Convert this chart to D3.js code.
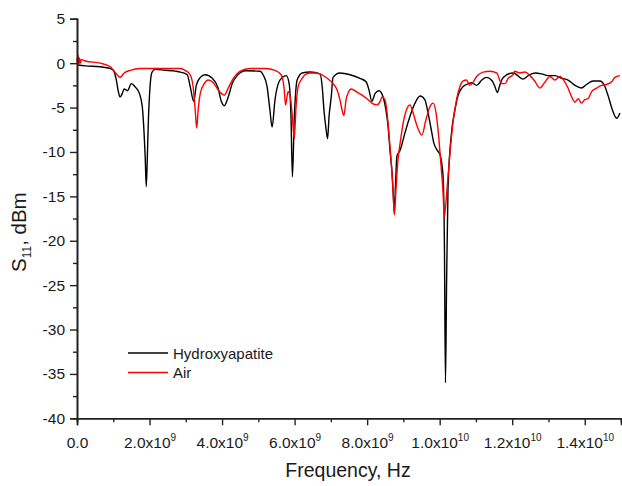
<!DOCTYPE html>
<html>
<head>
<meta charset="utf-8">
<script src="https://cdn.jsdelivr.net/npm/d3@7"></script>
<style>
  body { margin: 0; background: #fff; }
  text { font-family: "Liberation Sans", Arial, sans-serif; }
</style>
</head>
<body>
<div id="chart"></div>
<script>
// [frequency in GHz, S11 in dBm]
const hydroxyapatite = [
  [0.01,-0.2],[0.23,-0.3],[0.64,-0.4],[0.92,-0.6],[1.00,-0.8],[1.08,-1.8],[1.14,-3.2],[1.19,-3.8],
  [1.25,-3.4],[1.30,-2.9],[1.39,-3.1],[1.50,-2.3],[1.61,-2.7],[1.72,-3.4],[1.80,-4.9],[1.85,-7.9],
  [1.88,-10.5],[1.91,-13.9],[1.94,-10.5],[1.96,-7.5],[2.02,-2.3],[2.07,-1.0],[2.16,-0.7],[2.43,-0.8],
  [2.71,-0.9],[2.85,-1.0],[3.04,-1.3],[3.12,-2.6],[3.22,-4.3],[3.29,-2.5],[3.40,-1.6],[3.53,-1.3],
  [3.73,-1.7],[3.89,-2.8],[3.98,-4.3],[4.06,-4.8],[4.17,-3.8],[4.28,-2.3],[4.44,-1.3],[4.64,-0.85],
  [5.05,-0.9],[5.13,-1.3],[5.24,-2.6],[5.32,-5.3],[5.38,-7.2],[5.46,-4.1],[5.55,-2.3],[5.66,-1.6],
  [5.77,-1.4],[5.85,-2.3],[5.90,-6.0],[5.94,-12.8],[5.99,-6.4],[6.07,-1.9],[6.21,-1.1],[6.43,-1.0],
  [6.70,-1.2],[6.76,-2.6],[6.81,-5.3],[6.87,-7.5],[6.91,-8.5],[6.95,-6.0],[7.01,-3.8],[7.06,-1.6],
  [7.25,-1.1],[7.53,-1.3],[7.80,-1.7],[7.97,-2.1],[8.05,-3.0],[8.13,-4.3],[8.22,-3.4],[8.33,-3.1],
  [8.44,-3.8],[8.52,-5.3],[8.58,-7.2],[8.63,-9.8],[8.69,-12.5],[8.73,-15.5],[8.75,-16.8],[8.78,-14.0],
  [8.82,-10.5],[8.91,-9.8],[9.04,-7.9],[9.18,-6.0],[9.32,-4.5],[9.46,-3.7],[9.59,-4.1],[9.68,-5.6],
  [9.76,-7.3],[9.84,-9.0],[9.93,-9.8],[10.01,-10.3],[10.09,-12.5],[10.13,-20.0],[10.16,-36.0],[10.19,-25.0],
  [10.23,-14.1],[10.33,-7.7],[10.42,-5.3],[10.51,-3.6],[10.61,-2.8],[10.74,-2.4],[10.88,-2.2],[11.02,-2.5],
  [11.16,-1.9],[11.29,-1.6],[11.45,-2.0],[11.52,-2.6],[11.59,-3.3],[11.65,-2.6],[11.71,-1.9],[11.85,-1.3],
  [12.03,-1.1],[12.30,-1.8],[12.44,-1.4],[12.63,-1.1],[12.81,-1.2],[12.99,-1.4],[13.18,-1.4],[13.36,-1.7],
  [13.54,-1.9],[13.73,-2.5],[13.91,-2.8],[14.05,-2.4],[14.23,-2.0],[14.42,-2.0],[14.53,-2.4],[14.64,-3.6],
  [14.75,-5.1],[14.88,-6.2],[14.97,-5.6]
];

const air = [
  [0.00,0.6],[0.02,-0.4],[0.03,0.9],[0.05,-0.2],[0.07,0.6],[0.09,0.0],[0.12,0.4],[0.23,0.25],
  [0.64,0.0],[0.92,-0.4],[1.00,-0.8],[1.11,-1.3],[1.19,-1.6],[1.30,-1.1],[1.47,-0.8],[1.74,-0.6],
  [2.29,-0.6],[2.85,-0.6],[2.98,-0.8],[3.12,-1.3],[3.20,-2.6],[3.26,-5.3],[3.30,-7.3],[3.34,-5.3],
  [3.40,-3.4],[3.51,-2.3],[3.62,-1.9],[3.76,-2.2],[3.89,-3.0],[4.06,-3.6],[4.17,-2.8],[4.31,-1.7],
  [4.50,-0.9],[4.77,-0.6],[5.19,-0.6],[5.46,-0.8],[5.63,-1.3],[5.71,-2.8],[5.75,-4.7],[5.79,-3.8],
  [5.82,-3.2],[5.88,-3.8],[5.93,-5.6],[5.99,-8.5],[6.04,-4.9],[6.10,-2.6],[6.21,-1.7],[6.29,-1.3],
  [6.43,-1.1],[6.57,-1.1],[6.70,-1.2],[6.90,-1.7],[7.06,-2.3],[7.17,-3.0],[7.25,-4.1],[7.31,-5.3],
  [7.36,-5.9],[7.42,-4.1],[7.47,-3.4],[7.56,-2.9],[7.70,-3.2],[7.86,-3.6],[8.02,-4.1],[8.13,-4.5],
  [8.27,-4.7],[8.36,-4.3],[8.41,-3.8],[8.49,-4.1],[8.55,-5.6],[8.60,-7.9],[8.66,-10.9],[8.71,-14.0],
  [8.75,-17.1],[8.80,-13.9],[8.85,-10.9],[8.91,-9.0],[8.99,-6.8],[9.10,-5.1],[9.18,-4.7],[9.26,-5.5],
  [9.37,-7.0],[9.51,-8.1],[9.62,-6.4],[9.73,-4.9],[9.82,-4.5],[9.90,-5.6],[9.98,-8.6],[10.04,-11.7],
  [10.09,-14.3],[10.13,-17.3],[10.19,-14.8],[10.28,-10.3],[10.37,-6.6],[10.47,-4.0],[10.56,-2.6],[10.65,-2.0],
  [10.74,-1.9],[10.83,-2.5],[10.93,-2.1],[11.02,-1.5],[11.20,-1.0],[11.39,-0.9],[11.57,-1.1],[11.71,-2.3],
  [11.80,-2.3],[11.89,-1.7],[12.03,-1.25],[12.07,-0.9],[12.21,-1.1],[12.35,-1.0],[12.49,-1.4],[12.62,-2.0],
  [12.76,-2.8],[12.90,-2.15],[13.04,-1.5],[13.18,-1.9],[13.31,-1.5],[13.45,-2.1],[13.54,-2.8],[13.64,-3.8],
  [13.73,-4.4],[13.82,-4.0],[13.91,-4.5],[14.00,-4.1],[14.09,-4.0],[14.19,-3.2],[14.33,-2.8],[14.46,-2.5],
  [14.60,-2.4],[14.74,-2.1],[14.83,-1.6],[14.97,-1.4]
];

const seriesNames = ["Hydroxyapatite", "Air"];
const seriesColors = ["#000000", "#ff0000"];
const xTicks = [0, 2e9, 4e9, 6e9, 8e9, 1e10, 1.2e10, 1.4e10];
const xTickLabels = [["0.0",""],["2.0x10","9"],["4.0x10","9"],["6.0x10","9"],["8.0x10","9"],
                     ["1.0x10","10"],["1.2x10","10"],["1.4x10","10"]];
const xMinor = [1e9, 3e9, 5e9, 7e9, 9e9, 1.1e10, 1.3e10, 1.5e10];
const yTicks = [5, 0, -5, -10, -15, -20, -25, -30, -35, -40];
const yMinor = [2.5, -2.5, -7.5, -12.5, -17.5, -22.5, -27.5, -32.5, -37.5];

const w = 622, h = 486;
const plotLeft = 77, plotRight = 621, plotTop = 18.8, plotBottom = 418.3;
const tickFont = 15.5;

const svg = d3.select("#chart").append("svg")
    .attr("width", w)
    .attr("height", h);

const x = d3.scaleLinear().domain([0, 1.5e10]).range([plotLeft, plotRight]);
const y = d3.scaleLinear().domain([-40, 5]).range([plotBottom, plotTop]);

const line = d3.line()
    .curve(d3.curveMonotoneX)
    .x(d => x(d[0] * 1e9))
    .y(d => y(d[1]));

// curves (air on top)
[hydroxyapatite, air].forEach((data, i) => {
    svg.append("path")
        .datum(data)
        .attr("fill", "none")
        .attr("stroke", seriesColors[i])
        .attr("stroke-width", 1.4)
        .attr("stroke-linejoin", "round")
        .attr("d", line);
});

// axes
const axisColor = "#222";
const xAxis = d3.axisBottom(x).tickValues(xTicks).tickSize(7).tickFormat("");
const xAxisMinor = d3.axisBottom(x).tickValues(xMinor).tickSize(4).tickFormat("");
const yAxis = d3.axisLeft(y).tickValues(yTicks).tickSize(7).tickPadding(5)
    .tickFormat(d => String(d));
const yAxisMinor = d3.axisLeft(y).tickValues(yMinor).tickSize(4).tickFormat("");

function styleAxis(g) {
    g.select(".domain").attr("stroke", axisColor).attr("stroke-width", 1.6);
    g.selectAll(".tick line").attr("stroke", axisColor).attr("stroke-width", 1.4);
    g.selectAll(".tick text").attr("fill", "#1a1a1a").attr("font-size", tickFont)
        .attr("font-family", "\"Liberation Sans\", Arial, sans-serif");
}

svg.append("g").attr("transform", "translate(0," + plotBottom + ")").call(xAxisMinor).call(styleAxis);
const gx = svg.append("g").attr("transform", "translate(0," + plotBottom + ")").call(xAxis).call(styleAxis);
svg.append("g").attr("transform", "translate(" + plotLeft + ",0)").call(yAxisMinor).call(styleAxis);
svg.append("g").attr("transform", "translate(" + plotLeft + ",0)").call(yAxis).call(styleAxis);

// x tick labels with superscript exponents
gx.selectAll(".tick text").remove();
gx.selectAll(".tick").each(function(d, i) {
    const t = d3.select(this).append("text")
        .attr("fill", "#1a1a1a")
        .attr("font-size", tickFont)
        .attr("y", 29.5)
        .attr("text-anchor", "middle")
        .attr("font-family", "\"Liberation Sans\", Arial, sans-serif");
    t.append("tspan").text(xTickLabels[i][0]);
    if (xTickLabels[i][1]) {
        t.append("tspan").attr("font-size", 10).attr("dy", -7).text(xTickLabels[i][1]);
    }
});

// axis titles
svg.append("text")
    .attr("x", 348)
    .attr("y", 477)
    .attr("text-anchor", "middle")
    .attr("font-size", 19.5)
    .attr("fill", "#1a1a1a")
    .text("Frequency, Hz");

const yTitle = svg.append("text")
    .attr("transform", "translate(26,272) rotate(-90)")
    .attr("text-anchor", "start")
    .attr("font-size", 20.5)
    .attr("fill", "#1a1a1a");
yTitle.append("tspan").text("S");
yTitle.append("tspan").attr("font-size", 12).attr("dy", 5).text("11");
yTitle.append("tspan").attr("dy", -5).text(", dBm");

// legend
const legend = svg.append("g").attr("transform", "translate(128,353)");
seriesNames.forEach((name, i) => {
    legend.append("line")
        .attr("x1", 0).attr("x2", 40)
        .attr("y1", i * 19.5).attr("y2", i * 19.5)
        .attr("stroke", seriesColors[i])
        .attr("stroke-width", 1.3);
    legend.append("text")
        .attr("x", 45)
        .attr("y", i * 19.5 + 5.5)
        .attr("font-size", 15)
        .attr("fill", "#1a1a1a")
        .text(name);
});
</script>
</body>
</html>
